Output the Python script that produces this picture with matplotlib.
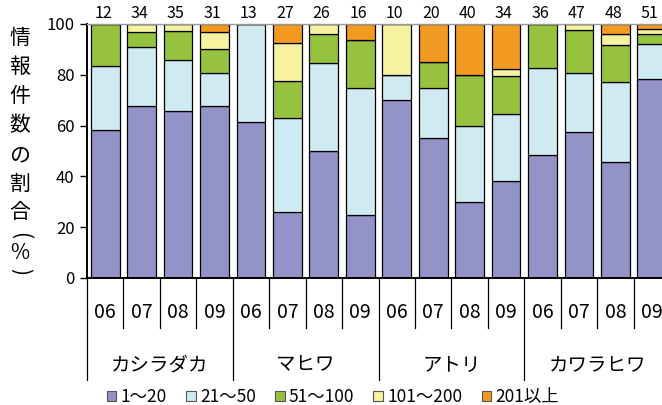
import matplotlib
matplotlib.use("Agg")
import matplotlib.pyplot as plt
from matplotlib.patches import Patch
import matplotlib.transforms as mtransforms

plt.rcParams['font.family'] = ['Noto Sans CJK JP', 'DejaVu Sans']

species = ["カシラダカ", "マヒワ", "アトリ", "カワラヒワ"]
years = ["06", "07", "08", "09"]
counts = [12, 34, 35, 31, 13, 27, 26, 16, 10, 20, 40, 34, 36, 47, 48, 51]

class_labels = ["1～20", "21～50", "51～100", "101～200", "201以上"]
share_1_20 = [58.3, 67.6, 65.7, 67.7, 61.5, 25.9, 50.0, 25.0, 70.0, 55.0, 30.0, 38.2, 48.4, 57.4, 45.8, 78.4]
share_21_50 = [25.0, 23.5, 20.0, 12.9, 38.5, 37.0, 34.6, 50.0, 10.0, 20.0, 30.0, 26.5, 34.4, 23.4, 31.3, 13.7]
share_51_100 = [16.7, 5.9, 11.4, 9.7, 0.0, 14.8, 11.5, 18.75, 0.0, 10.0, 20.0, 14.7, 17.2, 17.0, 14.6, 3.9]
share_101_200 = [0.0, 2.9, 2.9, 6.5, 0.0, 14.8, 3.8, 0.0, 20.0, 0.0, 0.0, 2.9, 0.0, 2.1, 4.2, 2.0]
share_201_up = [0.0, 0.0, 0.0, 3.2, 0.0, 7.4, 0.0, 6.25, 0.0, 15.0, 20.0, 17.6, 0.0, 0.0, 4.2, 2.0]

colors = ["#9393C8", "#CFEAF1", "#96C23F", "#F5F2A1", "#F39A22"]

W, H = 662, 405
fig = plt.figure(figsize=(W / 100, H / 100), dpi=100)
ax_left, ax_right, ax_top, ax_bot = 87, 670, 24, 278
ax = fig.add_axes([ax_left / W, 1 - ax_bot / H, (ax_right - ax_left) / W, (ax_bot - ax_top) / H])

n = len(counts)
xs = list(range(n))
series = [share_1_20, share_21_50, share_51_100, share_101_200, share_201_up]
bottom = [0.0] * n
for vals, col in zip(series, colors):
    ax.bar(xs, vals, width=0.79, bottom=bottom, color=col, edgecolor="black", linewidth=0.9, zorder=2)
    bottom = [b + v for b, v in zip(bottom, vals)]

ax.set_xlim(-0.5, n - 0.5)
ax.set_ylim(0, 100)
ax.set_yticks([0, 20, 40, 60, 80, 100])
ax.tick_params(axis="y", direction="out", length=5, width=1, labelsize=12, pad=4)
ax.set_xticks([])

ax.spines["right"].set_visible(False)
ax.spines["top"].set_color("#999999")
ax.spines["top"].set_linewidth(1)
ax.spines["left"].set_linewidth(1.4)
ax.spines["bottom"].set_linewidth(1.4)

ax_h = ax_bot - ax_top
trans = mtransforms.blended_transform_factory(ax.transData, ax.transAxes)

# sample counts above bars
for i, c in enumerate(counts):
    ax.text(i - 0.06, 1 + 10 / ax_h, str(c), transform=trans, ha="center", va="center", fontsize=11.5)

# year labels and dividers
for i in range(n):
    ax.text(i, -34.7 / ax_h, years[i % 4], transform=trans, ha="center", va="center", fontsize=14)
for k in range(n + 1):
    depth = 102 if k % 4 == 0 else 50
    ax.plot([k - 0.5, k - 0.5], [0, -depth / ax_h], transform=trans, color="black", lw=0.9, clip_on=False)

# species labels
for g, name in enumerate(species):
    ax.text(g * 4 + 1.5, -87 / ax_h, name, transform=trans, ha="center", va="center", fontsize=14)

# vertical y-axis title, written top to bottom
ylabel_chars = ["情", "報", "件", "数", "の", "割", "合"]
ylabel_y = [38, 67, 96, 125, 155, 184, 212]
for ch, yy in zip(ylabel_chars, ylabel_y):
    fig.text(20 / W, 1 - yy / H, ch, ha="center", va="center", fontsize=15)
fig.text(20 / W, 1 - 235 / H, "(", ha="center", va="center", fontsize=15, rotation=-90,
         rotation_mode="anchor")
fig.text(20 / W, 1 - 253 / H, "%", ha="center", va="center", fontsize=15)
fig.text(20 / W, 1 - 271 / H, ")", ha="center", va="center", fontsize=15, rotation=-90,
         rotation_mode="anchor")

handles = [Patch(facecolor=c, edgecolor="#555555", linewidth=0.8) for c in colors]
fig.legend(handles, class_labels, loc="center", bbox_to_anchor=(333 / W, 1 - 397 / H), ncol=5,
           frameon=False, fontsize=12.5, handlelength=0.55, handleheight=0.55, handletextpad=0.25,
           columnspacing=1.1, borderaxespad=0, borderpad=0)

fig.savefig("out.png", dpi=100)
